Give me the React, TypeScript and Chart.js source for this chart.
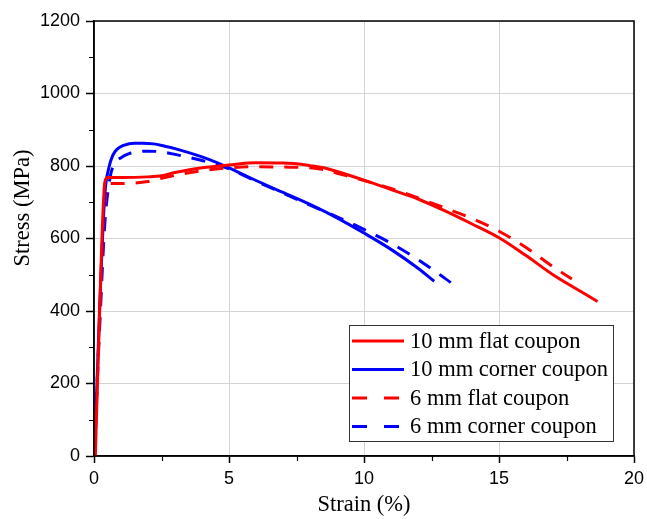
import { useEffect, useRef } from 'react';
import { Chart, registerables } from 'chart.js';

Chart.register(...registerables);

// ---- Data (strain %, stress MPa) ----
const flat10X = [0.05, 0.2, 0.4, 0.5, 1.0, 2.0, 2.5, 3.0, 4.0, 5.0, 6.0, 7.0, 7.5, 8.0, 8.5, 9.0, 10.0, 11.0, 12.0, 13.0, 14.0, 15.0, 16.0, 17.0, 18.0, 18.65];
const flat10Y = [0, 380, 755, 768, 768, 770, 773, 782, 795, 803, 809, 808, 806, 801, 795, 785, 761, 735, 709, 676, 640, 602, 553, 500, 455, 426];

const corner10X = [0.02, 0.2, 0.4, 0.55, 0.7, 0.85, 1.1, 1.5, 1.8, 2.2, 2.6, 3.0, 4.0, 5.0, 6.0, 7.0, 8.0, 9.0, 10.0, 11.0, 12.0, 12.6];
const corner10Y = [0, 390, 720, 795, 830, 846, 857, 863, 863, 861, 855, 848, 825, 795, 760, 727, 694, 657, 615, 570, 518, 482];

const flat6X = [0.02, 0.2, 0.45, 0.6, 1.0, 2.0, 2.5, 3.0, 4.0, 5.0, 6.0, 7.0, 8.0, 8.5, 9.0, 10.0, 11.0, 12.0, 13.0, 14.0, 15.0, 16.0, 17.0, 17.7];
const flat6Y = [0, 360, 730, 752, 752, 757, 766, 774, 787, 795, 798, 797, 795, 790, 780, 760, 738, 712, 684, 655, 620, 575, 522, 488];

const corner6X = [0, 0.2, 0.4, 0.6, 0.8, 1.0, 1.3, 1.7, 2.0, 2.5, 3.0, 4.0, 5.0, 6.0, 7.0, 8.0, 9.0, 10.0, 11.0, 12.0, 13.0, 13.4];
const corner6Y = [0, 340, 640, 770, 810, 823, 834, 840, 841, 839, 832, 815, 792, 758, 725, 692, 660, 625, 587, 542, 490, 468];

const seriesLabels = ['10 mm flat coupon', '10 mm corner coupon', '6 mm flat coupon', '6 mm corner coupon'];

const xTitle = 'Strain (%)';
const yTitle = 'Stress (MPa)';
const xMin = 0, xMax = 20, xStep = 5;
const yMin = 0, yMax = 1200, yStep = 200;

const toPoints = (xs: number[], ys: number[]) => xs.map((x, i) => ({ x, y: ys[i] }));

const SERIF = '"Liberation Serif", "Times New Roman", serif';
const SANS = '"Liberation Sans", Arial, sans-serif';

const decorPlugin = {
  id: 'decor',
  afterDatasetsDraw(chart: any) {
    const { ctx, chartArea: a, scales } = chart;
    const xs = scales.x;
    const ys = scales.y;
    ctx.save();
    // frame
    ctx.strokeStyle = '#000';
    ctx.lineWidth = 1.5;
    ctx.strokeRect(a.left, a.top, a.right - a.left, a.bottom - a.top);
    // minor ticks
    ctx.lineWidth = 1.2;
    ctx.beginPath();
    for (let v = xMin + xStep / 2; v < xMax; v += xStep) {
      const px = Math.round(xs.getPixelForValue(v)) + 0.5;
      ctx.moveTo(px, a.bottom);
      ctx.lineTo(px, a.bottom + 5);
    }
    for (let v = yMin + yStep / 2; v < yMax; v += yStep) {
      const py = Math.round(ys.getPixelForValue(v)) + 0.5;
      ctx.moveTo(a.left, py);
      ctx.lineTo(a.left - 5, py);
    }
    ctx.stroke();

    // legend
    const boxL = a.right - 285;
    const boxT = a.bottom - 131;
    const boxW = 264;
    const boxH = 116;
    ctx.fillStyle = '#fff';
    ctx.fillRect(boxL, boxT, boxW, boxH);
    ctx.strokeStyle = '#333';
    ctx.lineWidth = 1;
    ctx.strokeRect(boxL + 0.5, boxT + 0.5, boxW, boxH);
    ctx.font = `22.5px ${SERIF}`;
    ctx.textBaseline = 'middle';
    ctx.textAlign = 'left';
    chart.data.datasets.forEach((ds: any, i: number) => {
      const cy = boxT + 16 + i * 28.5;
      ctx.strokeStyle = ds.borderColor;
      ctx.lineWidth = 3;
      ctx.setLineDash(ds.borderDash && ds.borderDash.length ? [15, 17] : []);
      ctx.beginPath();
      ctx.moveTo(boxL + 3, cy);
      ctx.lineTo(boxL + 55, cy);
      ctx.stroke();
      ctx.setLineDash([]);
      ctx.fillStyle = '#000';
      ctx.fillText(ds.label, boxL + 61, cy + 1);
    });
    ctx.restore();
  },
  afterDraw(chart: any) {
    const { ctx, chartArea: a } = chart;
    ctx.save();
    ctx.fillStyle = '#000';
    ctx.font = `22.5px ${SERIF}`;
    ctx.textAlign = 'center';
    ctx.textBaseline = 'middle';
    ctx.fillText(xTitle, (a.left + a.right) / 2, 505);
    ctx.translate(23, 208);
    ctx.rotate(-Math.PI / 2);
    ctx.fillText(yTitle, 0, 0);
    ctx.restore();
  },
};

export default function App() {
  const ref = useRef<HTMLCanvasElement | null>(null);

  useEffect(() => {
    if (!ref.current) return;
    const mk = (label: string, xs: number[], ys: number[], color: string, dashed: boolean) => ({
      label,
      data: toPoints(xs, ys),
      showLine: true,
      borderColor: color,
      backgroundColor: color,
      borderWidth: 3,
      borderDash: dashed ? [14, 11] : [],
      pointRadius: 0,
      cubicInterpolationMode: 'monotone' as const,
    });
    const tickFont = { family: SANS, size: 18 };
    const chart = new Chart(ref.current, {
      type: 'scatter',
      data: {
        datasets: [
          mk(seriesLabels[0], flat10X, flat10Y, '#ff0000', false),
          mk(seriesLabels[1], corner10X, corner10Y, '#0000ff', false),
          mk(seriesLabels[2], flat6X, flat6Y, '#ff0000', true),
          mk(seriesLabels[3], corner6X, corner6Y, '#0000ff', true),
        ],
      },
      options: {
        responsive: false,
        animation: false,
        layout: { padding: { top: 21, right: 13, left: 0, bottom: 0 } },
        plugins: { legend: { display: false }, tooltip: { enabled: false } },
        scales: {
          x: {
            type: 'linear',
            min: xMin,
            max: xMax,
            afterFit: (s: any) => { s.height = 63; s.paddingRight = 0; s.paddingLeft = 0; },
            ticks: { stepSize: xStep, font: tickFont, color: '#000', padding: 5, maxRotation: 0, callback: (v: any) => String(v) },
            grid: { color: '#d4d4d4', lineWidth: 1, tickColor: '#000', tickLength: 7, tickWidth: 1.5 },
            border: { color: '#000', width: 1.5 },
          },
          y: {
            type: 'linear',
            min: yMin,
            max: yMax,
            afterFit: (s: any) => { s.width = 94; s.paddingTop = 0; s.paddingBottom = 0; },
            ticks: { stepSize: yStep, font: tickFont, color: '#000', padding: 6, callback: (v: any) => String(v) },
            grid: { color: '#d4d4d4', lineWidth: 1, tickColor: '#000', tickLength: 8, tickWidth: 1.5 },
            border: { color: '#000', width: 1.5 },
          },
        },
      },
      plugins: [decorPlugin],
    });
    return () => chart.destroy();
  }, []);

  return (
    <div style={{ position: 'absolute', left: 0, top: 0, width: 647, height: 519, background: '#fff' }}>
      <canvas ref={ref} width={647} height={519} style={{ display: 'block' }} />
    </div>
  );
}
